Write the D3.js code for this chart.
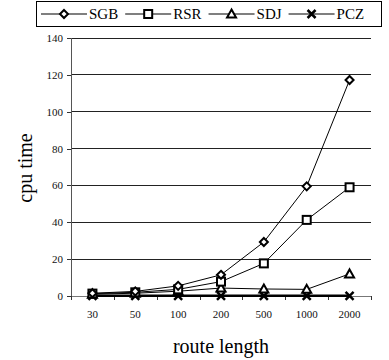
<!DOCTYPE html>
<html>
<head>
<meta charset="utf-8">
<script src="https://cdn.jsdelivr.net/npm/d3@7"></script>
<style>
body{margin:0;background:#fff;}
svg{display:block;}
svg text{font-family:"Liberation Serif","DejaVu Serif",serif;}
</style>
</head>
<body>
<div id="chart"></div>
<script>
// data
var categories = ['30','50','100','200','500','1000','2000'];
var sgb = [1.5, 2.5, 5.5, 11.5, 29.3, 59.5, 117.2];
var rsr = [1.3, 2.0, 3.6, 7.8, 17.7, 41.3, 59.0];
var sdj = [1.0, 1.5, 2.6, 4.3, 3.8, 3.6, 12.0];
var pcz = [0.1, 0.1, 0.1, 0.1, 0.1, 0.1, 0.1];
var seriesNames = ['SGB','RSR','SDJ','PCZ'];
var yTicks = [0,20,40,60,80,100,120,140];

var series = [
	{name:seriesNames[0], values:sgb, shape:'diamond'},
	{name:seriesNames[1], values:rsr, shape:'square'},
	{name:seriesNames[2], values:sdj, shape:'triangle'},
	{name:seriesNames[3], values:pcz, shape:'cross'}
];

var W = 389, H = 360;
var m = {t:38, r:18, b:64, l:71};
var serif = '"Liberation Serif", serif';

var svg = d3.select('#chart').append('svg')
	.attr('width',W)
	.attr('height',H)
	.attr('font-family',serif);

var x = d3.scaleBand().domain(categories).range([m.l, W-m.r]);
var y = d3.scaleLinear().domain([0,140]).range([H-m.b, m.t]);

// gridlines
svg.append('g').selectAll('line')
	.data(yTicks.filter(function(d){return d>0;}))
	.enter().append('line')
	.attr('x1',m.l).attr('x2',W-m.r)
	.attr('y1',function(d){return y(d);})
	.attr('y2',function(d){return y(d);})
	.style('stroke','#222')
	.style('stroke-width',1)
	.attr('shape-rendering','crispEdges');

// y axis
var yAxis = svg.append('g')
	.attr('transform','translate('+m.l+',0)')
	.call(d3.axisLeft(y).tickValues(yTicks).tickSize(4).tickPadding(4));
yAxis.attr('font-family',serif).attr('font-size',11);
yAxis.select('.domain').style('stroke','#555').attr('shape-rendering','crispEdges');
yAxis.selectAll('.tick line').style('stroke','#333').attr('shape-rendering','crispEdges');
yAxis.selectAll('text').attr('fill','#111');

// x axis: labels at centers, ticks at band boundaries
var xAxis = svg.append('g')
	.attr('transform','translate(0,'+y(0)+')')
	.call(d3.axisBottom(x).tickSize(0).tickPadding(14));
xAxis.attr('font-family',serif).attr('font-size',11);
xAxis.select('.domain').style('stroke','#777').attr('shape-rendering','crispEdges');
xAxis.selectAll('text').attr('fill','#111');

var bounds = categories.map(function(c){return x(c);}).concat([x.range()[1]]);
svg.append('g').selectAll('line')
	.data(bounds)
	.enter().append('line')
	.attr('x1',function(d){return Math.round(d)+0.5;})
	.attr('x2',function(d){return Math.round(d)+0.5;})
	.attr('y1',y(0)).attr('y2',y(0)+4)
	.style('stroke','#333');

// axis titles
svg.append('text')
	.attr('x', m.l + (W-m.r-m.l)/2)
	.attr('y', 353)
	.attr('text-anchor','middle')
	.attr('font-size',20)
	.text('route length');

svg.append('text')
	.attr('transform','translate(32,'+((m.t+H-m.b)/2+1)+') rotate(-90)')
	.attr('text-anchor','middle')
	.attr('font-size',20)
	.text('cpu time');

// marker drawing
function drawMarker(g, shape, cx, cy){
	if(shape==='diamond'){
		g.append('path')
			.attr('d','M'+cx+','+(cy-4)+'L'+(cx+4)+','+cy+'L'+cx+','+(cy+4)+'L'+(cx-4)+','+cy+'Z')
			.style('fill','#fff').style('stroke','#000').style('stroke-width',2);
	} else if(shape==='square'){
		g.append('rect')
			.attr('x',cx-4).attr('y',cy-4).attr('width',8).attr('height',8)
			.style('fill','#fff').style('stroke','#000').style('stroke-width',2);
	} else if(shape==='triangle'){
		g.append('path')
			.attr('d','M'+cx+','+(cy-4.5)+'L'+(cx+4.5)+','+(cy+3.5)+'L'+(cx-4.5)+','+(cy+3.5)+'Z')
			.style('fill','#fff').style('stroke','#000').style('stroke-width',2);
	} else {
		g.append('path')
			.attr('d','M'+(cx-4)+','+(cy-4)+'L'+(cx+4)+','+(cy+4)+'M'+(cx+4)+','+(cy-4)+'L'+(cx-4)+','+(cy+4))
			.style('stroke','#000').style('stroke-width',2.5).style('fill','none');
	}
}

var line = d3.line()
	.x(function(d,i){return x(categories[i])+x.bandwidth()/2;})
	.y(function(d){return y(d);});

// draw PCZ first so others sit over it
series.slice().reverse().forEach(function(s){
	var g = svg.append('g');
	g.append('path')
		.datum(s.values)
		.attr('d',line)
		.style('fill','none')
		.style('stroke','#000')
		.style('stroke-width', s.shape==='cross' ? 2.5 : 1);
	s.values.forEach(function(v,i){
		drawMarker(g, s.shape, x(categories[i])+x.bandwidth()/2, y(v));
	});
});

// legend
var leg = svg.append('g');
leg.append('rect')
	.attr('x',36.5).attr('y',1.5).attr('width',345).attr('height',25)
	.style('fill','#fff').style('stroke','#000').style('stroke-width',1);

var lx = 41, ly = 14;
series.forEach(function(s){
	leg.append('line')
		.attr('x1',lx).attr('x2',lx+46)
		.attr('y1',ly).attr('y2',ly)
		.style('stroke','#000').style('stroke-width',1.2);
	drawMarker(leg, s.shape, lx+23, ly);
	var t = leg.append('text')
		.attr('x',lx+48).attr('y',ly+5)
		.attr('font-size',15)
		.text(s.name);
	lx = lx + 48 + t.node().getComputedTextLength() + 7;
});
</script>
</body>
</html>
